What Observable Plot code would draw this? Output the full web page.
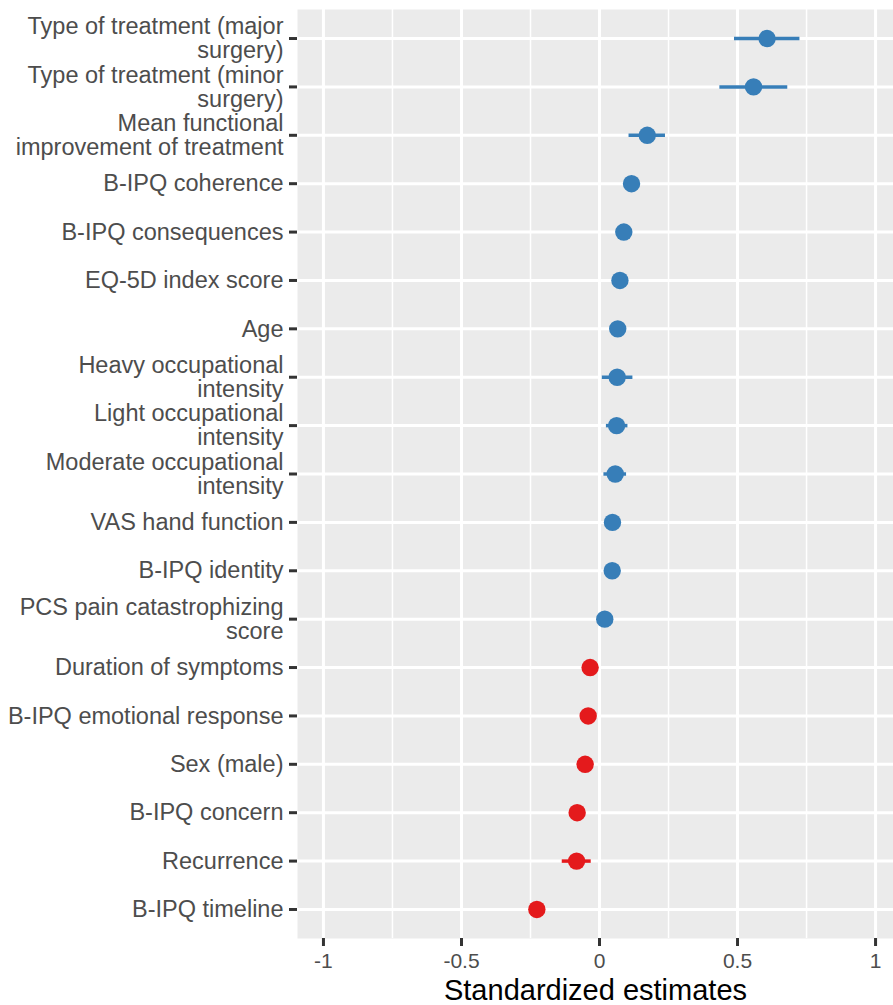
<!DOCTYPE html>
<html>
<head>
<meta charset="utf-8">
<script src="https://cdn.jsdelivr.net/npm/d3@7"></script>
<script src="https://cdn.jsdelivr.net/npm/@observablehq/plot@0.6"></script>
<style>
  html, body { margin: 0; padding: 0; background: #ffffff; }
  #chart svg { display: block; }
</style>
</head>
<body>
<div id="chart"></div>
<script>
// ---- Data ----
const labels = [
  "Type of treatment (major\nsurgery)",
  "Type of treatment (minor\nsurgery)",
  "Mean functional\nimprovement of treatment",
  "B-IPQ coherence",
  "B-IPQ consequences",
  "EQ-5D index score",
  "Age",
  "Heavy occupational\nintensity",
  "Light occupational\nintensity",
  "Moderate occupational\nintensity",
  "VAS hand function",
  "B-IPQ identity",
  "PCS pain catastrophizing\nscore",
  "Duration of symptoms",
  "B-IPQ emotional response",
  "Sex (male)",
  "B-IPQ concern",
  "Recurrence",
  "B-IPQ timeline"
];
const estimates = [0.607, 0.558, 0.173, 0.116, 0.088, 0.074, 0.066, 0.064, 0.062, 0.057, 0.047, 0.046, 0.019, -0.034, -0.041, -0.052, -0.081, -0.083, -0.227];
const lower     = [0.489, 0.436, 0.107, 0.100, 0.075, 0.060, 0.052, 0.010, 0.025, 0.016, 0.035, 0.034, 0.005, -0.046, -0.054, -0.064, -0.094, -0.135, -0.240];
const upper     = [0.726, 0.682, 0.239, 0.132, 0.101, 0.088, 0.080, 0.121, 0.103, 0.098, 0.059, 0.058, 0.033, -0.022, -0.028, -0.040, -0.068, -0.030, -0.214];
const majorTicks = [-1, -0.5, 0, 0.5, 1];
const minorTicks = [-0.75, -0.25, 0.25, 0.75];
const xTitle = "Standardized estimates";

const rows = labels.map((label, i) => ({
  label,
  est: estimates[i],
  lo: lower[i],
  hi: upper[i],
  dir: estimates[i] >= 0 ? "positive" : "negative"
}));

const plot = Plot.plot({
  width: 893,
  height: 1005,
  marginLeft: 297,
  marginRight: 0,
  marginTop: 9,
  marginBottom: 67,
  style: { fontFamily: "'Liberation Sans', Arial, Helvetica, sans-serif", background: "#ffffff" },
  x: { domain: [-1.094, 1.065], ticks: majorTicks },
  y: { type: "point", domain: labels, padding: 0.6, round: false },
  color: { domain: ["positive", "negative"], range: ["#377EB8", "#E41A1C"] },
  marks: [
    Plot.frame({ fill: "#ebebeb", stroke: null }),
    Plot.ruleX(minorTicks, { stroke: "#ffffff", strokeWidth: 1.5 }),
    Plot.ruleX(majorTicks, { stroke: "#ffffff", strokeWidth: 3 }),
    Plot.ruleY(labels, { stroke: "#ffffff", strokeWidth: 3 }),
    Plot.ruleY(rows, { y: "label", x1: "lo", x2: "hi", stroke: "dir", strokeWidth: 3.5 }),
    Plot.dot(rows, { x: "est", y: "label", fill: "dir", r: 8.7, stroke: null }),
    Plot.axisY({
      tickSize: 8, tickPadding: 6, fontSize: 23.5, lineHeight: 1.02,
      stroke: "#333333", strokeWidth: 3, fill: "#4d4d4d", label: null
    }),
    Plot.axisX({
      ticks: majorTicks, tickSize: 8, tickPadding: 7, fontSize: 21,
      tickFormat: d => String(d),
      stroke: "#333333", strokeWidth: 3, fill: "#4d4d4d", label: null
    }),
    Plot.text([xTitle], {
      frameAnchor: "bottom", lineAnchor: "top", dy: 41,
      fontSize: 29, fill: "#000000"
    })
  ]
});

document.getElementById("chart").appendChild(plot);
</script>
</body>
</html>
